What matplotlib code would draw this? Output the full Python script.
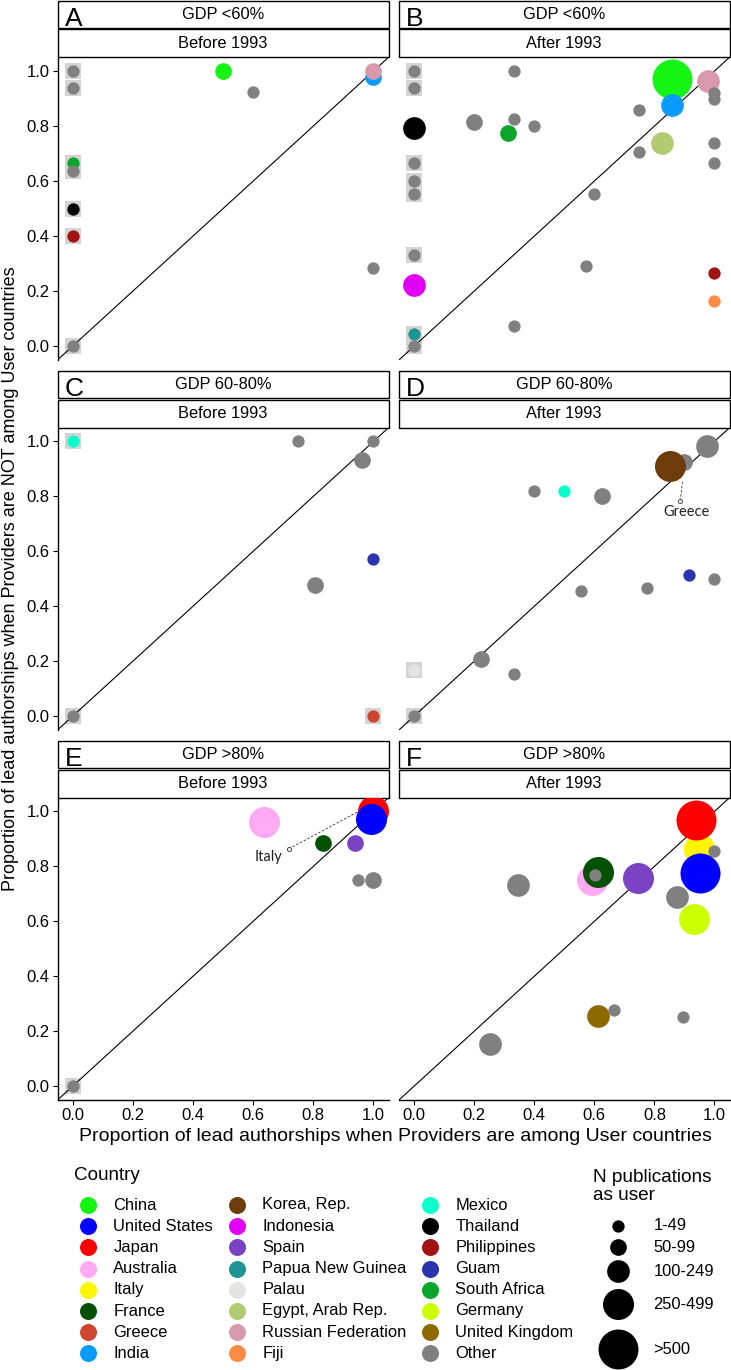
import matplotlib.pyplot as plt
from matplotlib.patches import Rectangle
import pandas as pd

plt.rcParams['font.family'] = ['Liberation Sans', 'DejaVu Sans']

# legend order of countries and their colours
countries = ["China", "United States", "Japan", "Australia", "Italy", "France",
             "Greece", "India", "Korea, Rep.", "Indonesia", "Spain",
             "Papua New Guinea", "Palau", "Egypt, Arab Rep.", "Russian Federation",
             "Fiji", "Mexico", "Thailand", "Philippines", "Guam", "South Africa",
             "Germany", "United Kingdom", "Other"]
country_colors = ["#14F514", "#0000FF", "#FF0000", "#FFAAF2", "#FFF500", "#045004",
                  "#CC4631", "#0A9BFF", "#6E3B0A", "#E100F5", "#7A43C3",
                  "#1E9594", "#E1E6E3", "#B1CB72", "#D898AE",
                  "#FF8B44", "#0AFFCC", "#000000", "#A01414", "#2B33AE", "#0AA62A",
                  "#CCFF00", "#8C6A00", "#808080"]
size_labels = ["1-49", "50-99", "100-249", "250-499", ">500"]

gdp_levels = ["GDP <60%", "GDP <60%", "GDP 60-80%", "GDP 60-80%", "GDP >80%", "GDP >80%"]
periods = ["Before 1993", "After 1993"] * 3
panel_letters = ["A", "B", "C", "D", "E", "F"]

# (country, share when providers among users, share when not, N class, boxed)
panel_a = [("Other", 0, 1.0, 0, True), ("Other", 0, 0.94, 0, True),
           ("South Africa", 0, 0.667, 0, True), ("Other", 0, 0.636, 0, True),
           ("Thailand", 0, 0.5, 0, True), ("Philippines", 0, 0.4, 0, True),
           ("Other", 0, 0.0, 0, True), ("China", 0.5, 1.0, 1, False),
           ("Other", 0.6, 0.923, 0, False), ("India", 1.0, 0.98, 1, False),
           ("Russian Federation", 1.0, 1.0, 1, False), ("Other", 1.0, 0.286, 0, False)]

panel_b = [("Other", 0, 1.0, 0, True), ("Other", 0, 0.94, 0, True),
           ("Other", 0, 0.667, 0, True), ("Other", 0, 0.6, 0, True),
           ("Other", 0, 0.555, 0, True), ("Other", 0, 0.331, 0, True),
           ("Papua New Guinea", 0, 0.043, 0, True), ("Other", 0, 0.0, 0, True),
           ("Other", 0.334, 1.0, 0, False), ("Other", 0.749, 0.857, 0, False),
           ("Other", 0.201, 0.816, 1, False), ("Other", 0.334, 0.827, 0, False),
           ("Other", 0.4, 0.8, 0, False), ("Other", 0.749, 0.706, 0, False),
           ("Other", 1.0, 0.737, 0, False), ("Other", 1.0, 0.667, 0, False),
           ("Other", 0.6, 0.555, 0, False), ("Other", 0.571, 0.291, 0, False),
           ("Other", 0.334, 0.075, 0, False),
           ("China", 0.857, 0.972, 4, False), ("India", 0.857, 0.876, 2, False),
           ("Russian Federation", 0.98, 0.964, 2, False),
           ("Other", 1.0, 0.921, 0, False), ("Other", 1.0, 0.897, 0, False),
           ("Thailand", 0, 0.792, 2, False), ("South Africa", 0.313, 0.776, 1, False),
           ("Egypt, Arab Rep.", 0.827, 0.74, 2, False), ("Indonesia", 0, 0.222, 2, False),
           ("Philippines", 1.0, 0.267, 0, False), ("Fiji", 1.0, 0.166, 0, False)]

panel_c = [("Mexico", 0, 1.0, 0, True), ("Other", 0, 0.0, 0, True),
           ("Greece", 1.0, 0.0, 0, True), ("Other", 0.749, 1.0, 0, False),
           ("Other", 1.0, 1.0, 0, False), ("Other", 0.962, 0.933, 1, False),
           ("Guam", 1.0, 0.572, 0, False), ("Other", 0.805, 0.476, 1, False)]

panel_d = [("Palau", 0, 0.167, 0, True), ("Other", 0, 0.0, 0, True),
           ("Other", 0.976, 0.982, 2, False), ("Other", 0.898, 0.927, 1, False),
           ("Greece", 0.875, 0.9, 0, False), ("Korea, Rep.", 0.851, 0.912, 3, False),
           ("Other", 0.4, 0.818, 0, False), ("Mexico", 0.5, 0.818, 0, False),
           ("Other", 0.625, 0.8, 1, False), ("Guam", 0.915, 0.515, 0, False),
           ("Other", 1.0, 0.5, 0, False), ("Other", 0.555, 0.455, 0, False),
           ("Other", 0.777, 0.467, 0, False), ("Other", 0.223, 0.21, 1, False),
           ("Other", 0.334, 0.155, 0, False)]

panel_e = [("Other", 0, 0.0, 0, True), ("Australia", 0.636, 0.961, 3, False),
           ("Italy", 0.975, 0.985, 0, False), ("Japan", 1.0, 1.0, 3, False),
           ("United States", 0.992, 0.973, 3, False), ("France", 0.832, 0.885, 1, False),
           ("Spain", 0.94, 0.885, 1, False), ("Other", 0.95, 0.749, 0, False),
           ("Other", 1.0, 0.749, 1, False)]

panel_f = [("Australia", 0.591, 0.752, 3, False), ("France", 0.613, 0.778, 3, False),
           ("Other", 0.602, 0.77, 0, False), ("Spain", 0.746, 0.758, 3, False),
           ("Italy", 0.947, 0.864, 3, False), ("Other", 1.0, 0.857, 0, False),
           ("Japan", 0.939, 0.97, 4, False), ("United States", 0.953, 0.776, 4, False),
           ("Other", 0.346, 0.733, 2, False), ("Other", 0.875, 0.689, 2, False),
           ("Germany", 0.931, 0.609, 3, False), ("United Kingdom", 0.612, 0.257, 2, False),
           ("Other", 0.666, 0.279, 0, False), ("Other", 0.895, 0.251, 0, False),
           ("Other", 0.254, 0.152, 2, False)]

panels = [panel_a, panel_b, panel_c, panel_d, panel_e, panel_f]

# labelled points: panel index -> (label, label pos, segment start, segment end)
callouts = {3: ("Greece", (0.908, 0.742), (0.886, 0.784), (0.894, 0.858)),
            4: ("Italy", (0.65, 0.836), (0.719, 0.864), (0.959, 1.005))}

color_of = dict(zip(countries, country_colors))
size_px = [12.3, 16.7, 22.7, 31, 40]


def msize(d):
    # pixel diameter -> scatter size (pt^2) at 100 dpi
    return (d * 0.72) ** 2


W, H = 731, 1370
fig = plt.figure(figsize=(W / 100, H / 100), dpi=100)

col_x = [(57.5, 388.5), (399, 729.5)]
row_y = [(57.3, 360), (427.7, 730), (797.7, 1100)]
ticks = [0, 0.2, 0.4, 0.6, 0.8, 1.0]

for i, pts in enumerate(panels):
    r, c = divmod(i, 2)
    x0, x1 = col_x[c]
    y0, y1 = row_y[r]
    w, h = x1 - x0, y1 - y0
    ax = fig.add_axes([x0 / W, 1 - y1 / H, w / W, h / H])
    ax.set_xlim(-0.05, 1.05)
    ax.set_ylim(-0.05, 1.05)

    df = pd.DataFrame(pts, columns=["country", "x", "y", "n_class", "boxed"])
    bx = df[df.boxed]
    ax.scatter(bx.x, bx.y, marker="s", s=msize(15.7), color="#D3D3D3", lw=0, zorder=1)
    ax.axline((0, 0), slope=1, color="black", lw=0.8, zorder=1.5)
    for _, p in df.iterrows():
        ax.scatter(p.x, p.y, s=msize(size_px[p.n_class]), color=color_of[p.country],
                   lw=0, zorder=2)

    if i in callouts:
        lab, lxy, sxy, exy = callouts[i]
        ax.plot([sxy[0], exy[0]], [sxy[1], exy[1]], ls=(0, (3, 2)), color="#333333",
                lw=0.6, zorder=2.5)
        ax.scatter(*sxy, s=9, facecolor="white", edgecolor="#333333", lw=0.6, zorder=2.6)
        ax.text(lxy[0], lxy[1], lab, ha="center", va="center", fontsize=10.5,
                family=["Lato", "DejaVu Sans"], color="#222222")

    for side in ["top", "right"]:
        ax.spines[side].set_visible(False)
    ax.spines["left"].set_linewidth(1.0)
    ax.spines["bottom"].set_linewidth(1.0)
    ax.set_xticks(ticks)
    ax.set_yticks(ticks)
    ax.set_xticklabels([f"{t:.1f}" for t in ticks])
    ax.set_yticklabels([f"{t:.1f}" for t in ticks])
    ax.tick_params(length=3.6, width=0.8, labelsize=12, pad=2, colors="black")
    if c == 1:
        ax.spines["left"].set_visible(False)
        ax.tick_params(axis="y", left=False, labelleft=False)
    if r < 2:
        ax.spines["bottom"].set_visible(False)
        ax.tick_params(axis="x", bottom=False, labelbottom=False)

    # facet strips
    strips = [(gdp_levels[i], 29.3, 27.0), (periods[i], 0.0, 27.8)]
    for txt, off, sh in strips:
        ax.add_patch(Rectangle((0, 1 + off / h), 1, sh / h, transform=ax.transAxes,
                               facecolor="white", edgecolor="black", lw=1.0,
                               clip_on=False))
        ax.text(0.5, 1 + (off + sh / 2) / h, txt, transform=ax.transAxes,
                ha="center", va="center", fontsize=11.8)
    ax.text(7 / w, 1 + 31.3 / h, panel_letters[i], transform=ax.transAxes,
            ha="left", va="baseline", fontsize=19)

fig.text(395 / W, 1 - 1136.7 / H,
         "Proportion of lead authorships when Providers are among User countries",
         ha="center", va="center", fontsize=14.0)
fig.text(11 / W, 1 - 579 / H,
         "Proportion of lead authorships when Providers are NOT among User countries",
         ha="center", va="center", rotation=90, fontsize=13.0)

# legends, drawn in pixel coordinates
lax = fig.add_axes([0, 0, 1, 230 / H])
lax.set_xlim(0, W)
lax.set_ylim(H, 1140)
lax.axis("off")

lax.text(74.3, 1176, "Country", ha="left", va="center", fontsize=13.6)
mark_x = [88.3, 237.3, 430]
text_x = [113.3, 262.3, 455.3]
for k, (name, col) in enumerate(zip(countries, country_colors)):
    cc, rr = divmod(k, 8)
    yy = 1205 + rr * 21.2
    lax.scatter(mark_x[cc], yy, s=msize(17), color=col, lw=0)
    lax.text(text_x[cc], yy, name, ha="left", va="center", fontsize=11.9)

lax.text(593.3, 1186.7, "N publications\nas user", ha="left", va="center",
         fontsize=13.7, linespacing=1.1)
size_y = [1226, 1247.3, 1271, 1304.3, 1349.3]
for lab, d, yy in zip(size_labels, size_px, size_y):
    lax.scatter(617.7, yy, s=msize(d), color="black", lw=0)
    lax.text(653.3, yy, lab, ha="left", va="center", fontsize=11.9)

fig.savefig("out.png", dpi=100)
